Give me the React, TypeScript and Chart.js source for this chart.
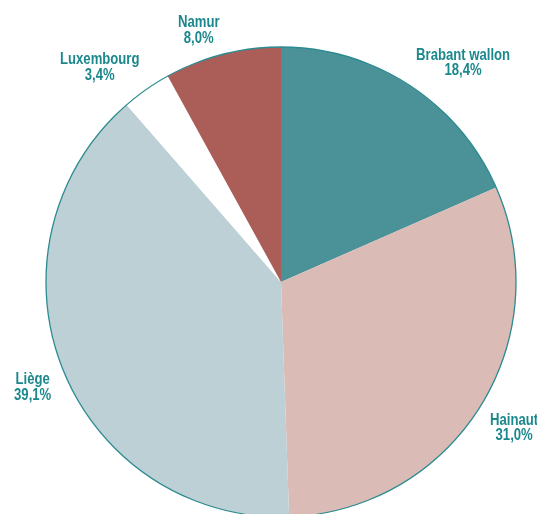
import React, { useEffect, useRef } from "react";
import { Chart, registerables } from "chart.js";

Chart.register(...registerables);

const categories = ["Brabant wallon", "Hainaut", "Liège", "Luxembourg", "Namur"];
const shares = [18.4, 31.0, 39.1, 3.4, 8.0];
const shareLabels = ["18,4%", "31,0%", "39,1%", "3,4%", "8,0%"];
const sliceColors = ["#4A9298", "#DBBBB5", "#BDD0D6", "#FFFFFF", "#AB5D58"];

const TEAL = "#1B888D";
const BORDER = "#2B8B90";
const FONT = 'bold 16px "Liberation Sans", Arial, sans-serif';
const NARROW = 0.82;

const outlinePlugin = {
  id: "outline",
  afterDatasetsDraw(chart: any) {
    const meta = chart.getDatasetMeta(0);
    const arc = meta.data[0];
    if (!arc) return;
    const { x, y, outerRadius } = arc.getProps(["x", "y", "outerRadius"], true);
    const ctx = chart.ctx;
    ctx.save();
    ctx.beginPath();
    ctx.arc(x, y, outerRadius, 0, Math.PI * 2);
    ctx.strokeStyle = BORDER;
    ctx.lineWidth = 1.3;
    ctx.stroke();
    ctx.restore();
  },
};

function drawNarrow(ctx: CanvasRenderingContext2D, text: string, cx: number, baseline: number) {
  ctx.save();
  ctx.translate(cx, baseline);
  ctx.scale(NARROW, 1);
  ctx.fillText(text, 0, 0);
  ctx.restore();
}

const labelPlugin = {
  id: "outsideLabels",
  afterDatasetsDraw(chart: any) {
    const meta = chart.getDatasetMeta(0);
    const ctx = chart.ctx;
    ctx.save();
    ctx.font = FONT;
    ctx.fillStyle = TEAL;
    ctx.textAlign = "center";
    ctx.textBaseline = "alphabetic";
    const capH = 11.5;
    const lineGap = 15.5;
    const h = capH + lineGap;
    meta.data.forEach((el: any, i: number) => {
      const { x, y, startAngle, endAngle, outerRadius } = el.getProps(
        ["x", "y", "startAngle", "endAngle", "outerRadius"],
        true
      );
      const mid = (startAngle + endAngle) / 2;
      const ux = Math.cos(mid);
      const uy = Math.sin(mid);
      const r = outerRadius + 12;
      const px = x + r * ux;
      const py = y + r * uy;
      const l1 = categories[i];
      const l2 = shareLabels[i];
      const w = NARROW * Math.max(ctx.measureText(l1).width, ctx.measureText(l2).width);
      const left = ux >= 0 ? px : px - w;
      const top = uy >= 0 ? py : py - h;
      const cx = left + w / 2;
      drawNarrow(ctx, l1, cx, top + capH);
      drawNarrow(ctx, l2, cx, top + capH + lineGap);
    });
    ctx.restore();
  },
};

export default function App() {
  const canvasRef = useRef<HTMLCanvasElement | null>(null);

  useEffect(() => {
    if (!canvasRef.current) return;
    const chart = new Chart(canvasRef.current, {
      type: "pie",
      data: {
        labels: categories,
        datasets: [
          {
            data: shares,
            backgroundColor: sliceColors,
            borderWidth: 0,
          },
        ],
      },
      options: {
        responsive: false,
        animation: false,
        devicePixelRatio: 1,
        layout: { padding: { left: 46, right: 21, top: 47, bottom: 23 } },
        plugins: {
          legend: { display: false },
          tooltip: { enabled: false },
        },
      },
      plugins: [outlinePlugin, labelPlugin],
    });
    return () => chart.destroy();
  }, []);

  return (
    <div style={{ position: "absolute", left: 0, top: 0, width: 537, height: 540, background: "#fff" }}>
      <canvas ref={canvasRef} width={537} height={540} style={{ display: "block" }} />
    </div>
  );
}
